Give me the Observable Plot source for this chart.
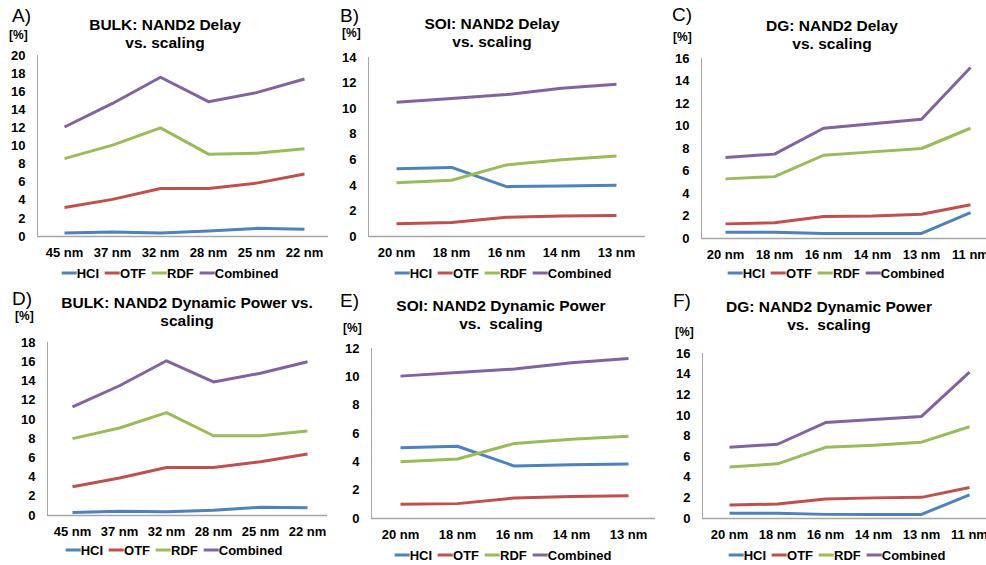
<!DOCTYPE html>
<html>
<head>
<meta charset="utf-8">
<script src="https://cdn.jsdelivr.net/npm/d3@7"></script>
<script src="https://cdn.jsdelivr.net/npm/@observablehq/plot@0.6"></script>
<style>
  html, body { margin: 0; padding: 0; background: #fff; }
  body { width: 986px; height: 565px; overflow: hidden; position: relative;
         font-family: "Liberation Sans", Arial, sans-serif; color: #000; }
  .abs { position: absolute; }
  .letter { font-size: 19px; font-weight: normal; transform: translateY(-50%); line-height: 1; }
  .pct { font-size: 12px; font-weight: bold; transform: translateY(-50%); line-height: 1; }
  .title { font-size: 15.5px; font-weight: bold; line-height: 18px; text-align: center;
           transform: translate(-50%, -50%); white-space: pre; }
  .legend { display: flex; gap: 6px; font-size: 13px; font-weight: bold; transform: translate(-50%, -50%);
            white-space: nowrap; align-items: center; }
  .legend span.item { display: flex; align-items: center; }
  .legend span.sw { display: inline-block; width: 15px; height: 3px; margin-right: 0px; }
  svg { overflow: visible; }
</style>
</head>
<body>
<script>
// ---- Data ----
const seriesNames = ["HCI", "OTF", "RDF", "Combined"];
const seriesColors = ["#4f81bd", "#c0504d", "#9bbb59", "#8064a2"];

const catsBulk = ["45 nm", "37 nm", "32 nm", "28 nm", "25 nm", "22 nm"];
const catsSoi = ["20 nm", "18 nm", "16 nm", "14 nm", "13 nm"];
const catsDg = ["20 nm", "18 nm", "16 nm", "14 nm", "13 nm", "11 nm"];

// A) BULK delay
const aHCI = [0.4, 0.5, 0.4, 0.6, 0.9, 0.8];
const aOTF = [3.2, 4.1, 5.3, 5.3, 5.9, 6.9];
const aRDF = [8.6, 10.1, 12.0, 9.1, 9.2, 9.7];
const aComb = [12.1, 14.7, 17.6, 14.9, 15.9, 17.4];
// B) SOI delay
const bHCI = [5.3, 5.4, 3.9, 3.95, 4.0];
const bOTF = [1.0, 1.1, 1.5, 1.6, 1.65];
const bRDF = [4.2, 4.4, 5.6, 6.0, 6.3];
const bComb = [10.5, 10.8, 11.1, 11.6, 11.9];
// C) DG delay
const cHCI = [0.55, 0.55, 0.45, 0.45, 0.45, 2.3];
const cOTF = [1.3, 1.4, 1.95, 2.0, 2.15, 3.0];
const cRDF = [5.3, 5.5, 7.4, 7.7, 8.0, 9.8];
const cComb = [7.2, 7.5, 9.8, 10.2, 10.6, 15.2];
// D) BULK dynamic power
const dHCI = [0.3, 0.45, 0.4, 0.55, 0.85, 0.8];
const dOTF = [3.0, 3.9, 5.0, 5.0, 5.6, 6.4];
const dRDF = [8.0, 9.1, 10.7, 8.3, 8.3, 8.8];
const dComb = [11.3, 13.5, 16.1, 13.9, 14.8, 16.0];
// E) SOI dynamic power
const eHCI = [5.0, 5.1, 3.7, 3.8, 3.85];
const eOTF = [1.0, 1.05, 1.45, 1.55, 1.6];
const eRDF = [4.0, 4.2, 5.3, 5.6, 5.8];
const eComb = [10.05, 10.3, 10.55, 11.0, 11.3];
// F) DG dynamic power
const fHCI = [0.5, 0.5, 0.4, 0.4, 0.4, 2.3];
const fOTF = [1.3, 1.4, 1.9, 2.0, 2.05, 3.0];
const fRDF = [5.0, 5.3, 6.9, 7.1, 7.4, 8.9];
const fComb = [6.9, 7.2, 9.3, 9.6, 9.9, 14.2];

// Tick labels
const ticksA = [0, 2, 4, 6, 8, 10, 12, 14, 16, 18, 20];
const ticksB = [0, 2, 4, 6, 8, 10, 12, 14];
const ticksC = [0, 2, 4, 6, 8, 10, 12, 14, 16];
const ticksD = [0, 2, 4, 6, 8, 10, 12, 14, 16, 18];
const ticksE = [0, 2, 4, 6, 8, 10, 12];
const ticksF = [0, 2, 4, 6, 8, 10, 12, 14, 16];

const letters = ["A)", "B)", "C)", "D)", "E)", "F)"];
const titles = [
  "BULK: NAND2 Delay\nvs. scaling",
  "SOI: NAND2 Delay\nvs. scaling",
  "DG: NAND2 Delay\nvs. scaling",
  "BULK: NAND2 Dynamic Power vs.\nscaling",
  "SOI: NAND2 Dynamic Power\nvs.  scaling",
  "DG: NAND2 Dynamic Power\nvs.  scaling"
];

// ---- Layout (positions only) ----
const panels = [
  {cats: catsBulk, vals: [aHCI, aOTF, aRDF, aComb], ticks: ticksA,
   px: 0, py: 0, W: 330, H: 285, ML: 37, MT: 55, MB: 49, MR: 2, xr: [62, 305],
   letter: [12, 15], pct: [9, 35], title: [165, 34], legend: [170, 273]},
  {cats: catsSoi, vals: [bHCI, bOTF, bRDF, bComb], ticks: ticksB,
   px: 330, py: 0, W: 330, H: 285, ML: 38, MT: 57, MB: 49, MR: 15, xr: [64, 287],
   letter: [340, 15], pct: [342, 33], title: [492, 32.5], legend: [503, 273]},
  {cats: catsDg, vals: [cHCI, cOTF, cRDF, cComb], ticks: ticksC,
   px: 660, py: 0, W: 340, H: 285, ML: 41, MT: 58, MB: 47, MR: 6, xr: [65, 310],
   letter: [672, 14], pct: [673, 37], title: [832, 34.5], legend: [836, 273]},
  {cats: catsBulk, vals: [dHCI, dOTF, dRDF, dComb], ticks: ticksD,
   px: 0, py: 285, W: 330, H: 280, ML: 47, MT: 57, MB: 50, MR: 3, xr: [71, 307],
   letter: [12, 298], pct: [15, 316], title: [187, 312], legend: [174, 550]},
  {cats: catsSoi, vals: [eHCI, eOTF, eRDF, eComb], ticks: ticksE,
   px: 330, py: 285, W: 330, H: 280, ML: 41, MT: 63, MB: 47, MR: 5, xr: [68, 299],
   letter: [340, 300], pct: [343, 328], title: [501, 315], legend: [503, 555]},
  {cats: catsDg, vals: [fHCI, fOTF, fRDF, fComb], ticks: ticksF,
   px: 660, py: 285, W: 340, H: 280, ML: 42, MT: 68, MB: 47, MR: 6, xr: [67, 310],
   letter: [673, 300], pct: [675, 332], title: [829, 315.5], legend: [837, 555]}
];

const FONT = '"Liberation Sans", Arial, sans-serif';
const AXIS = "#a6a6a6";

function place(el, x, y) {
  el.style.left = x + "px";
  el.style.top = y + "px";
  document.body.appendChild(el);
}

panels.forEach((p, i) => {
  const rows = [];
  p.vals.forEach((arr, si) => arr.forEach((v, ci) => rows.push({cat: p.cats[ci], series: seriesNames[si], value: v})));
  const ymax = p.ticks[p.ticks.length - 1];

  const chart = Plot.plot({
    width: p.W, height: p.H,
    marginLeft: p.ML, marginTop: p.MT, marginBottom: p.MB, marginRight: p.MR,
    x: {type: "point", domain: p.cats, range: p.xr, padding: 0, label: null},
    y: {domain: [0, ymax], label: null},
    color: {domain: seriesNames, range: seriesColors},
    style: {fontFamily: FONT, fontSize: "13px", fontWeight: "bold", color: "#000", background: "transparent", overflow: "visible"},
    marks: [
      Plot.frame({anchor: "left", stroke: AXIS, strokeOpacity: 1}),
      Plot.ruleY([0], {stroke: AXIS, strokeWidth: 1.5}),
      Plot.axisY({ticks: p.ticks, tickSize: 0, tickPadding: 12, label: null, fill: "#000"}),
      Plot.axisX({tickSize: 0, tickPadding: 11, label: null, fill: "#000"}),
      Plot.line(rows, {x: "cat", y: "value", z: "series", stroke: "series", strokeWidth: 3, strokeLinejoin: "round", strokeLinecap: "butt"})
    ]
  });
  chart.style.position = "absolute";
  place(chart, p.px, p.py);

  const L = document.createElement("div");
  L.className = "abs letter"; L.textContent = letters[i];
  place(L, p.letter[0], p.letter[1]);

  const P = document.createElement("div");
  P.className = "abs pct"; P.textContent = "[%]";
  place(P, p.pct[0], p.pct[1]);

  const T = document.createElement("div");
  T.className = "abs title"; T.textContent = titles[i];
  place(T, p.title[0], p.title[1]);

  const G = document.createElement("div");
  G.className = "abs legend";
  seriesNames.forEach((name, si) => {
    const item = document.createElement("span");
    item.className = "item";
    const sw = document.createElement("span");
    sw.className = "sw"; sw.style.background = seriesColors[si];
    const tx = document.createElement("span");
    tx.textContent = name;
    item.appendChild(sw); item.appendChild(tx);
    G.appendChild(item);
  });
  place(G, p.legend[0], p.legend[1]);
});
</script>
</body>
</html>
